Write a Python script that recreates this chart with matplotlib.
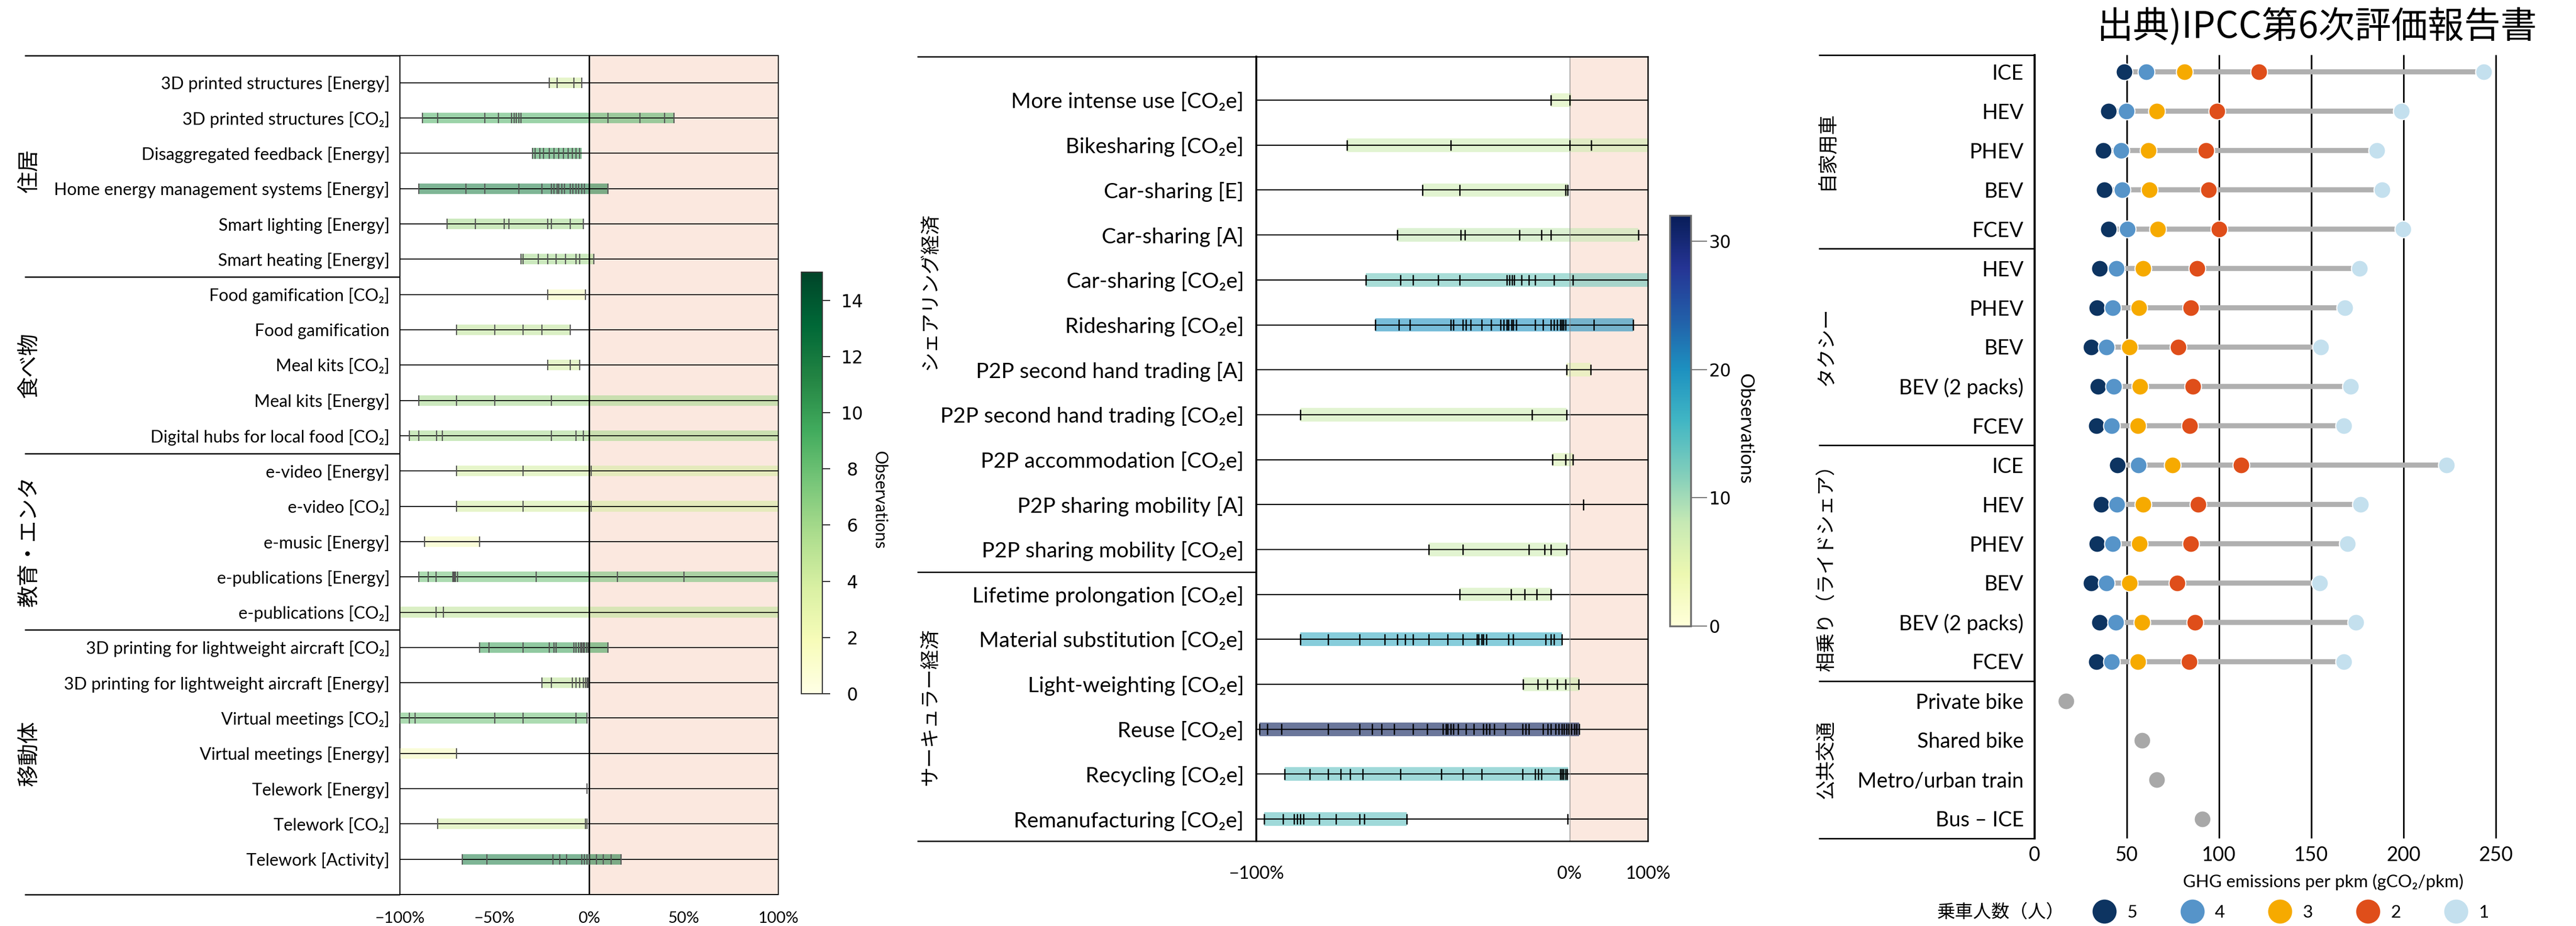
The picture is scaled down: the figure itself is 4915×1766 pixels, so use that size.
import numpy as np
import matplotlib
matplotlib.use("Agg")
import matplotlib.pyplot as plt
import matplotlib.transforms as mtransforms
from matplotlib.cm import ScalarMappable
from matplotlib.colors import Normalize
from matplotlib.lines import Line2D
from matplotlib.ticker import PercentFormatter

plt.rcParams["font.family"] = ["Lato", "Noto Sans CJK JP", "DejaVu Sans"]
JP = ["Noto Sans CJK JP", "DejaVu Sans"]

# ---------------- left panel: digitalisation ----------------
left_groups = ["住居", "食べ物", "教育・エンタ", "移動体"]
left_group_sizes = [6, 5, 5, 7]
left_labels = [
    "3D printed structures [Energy]",
    "3D printed structures [CO₂]",
    "Disaggregated feedback [Energy]",
    "Home energy management systems [Energy]",
    "Smart lighting [Energy]",
    "Smart heating [Energy]",
    "Food gamification [CO₂]",
    "Food gamification",
    "Meal kits [CO₂]",
    "Meal kits [Energy]",
    "Digital hubs for local food [CO₂]",
    "e-video [Energy]",
    "e-video [CO₂]",
    "e-music [Energy]",
    "e-publications [Energy]",
    "e-publications [CO₂]",
    "3D printing for lightweight aircraft [CO₂]",
    "3D printing for lightweight aircraft [Energy]",
    "Virtual meetings [CO₂]",
    "Virtual meetings [Energy]",
    "Telework [Energy]",
    "Telework [CO₂]",
    "Telework [Activity]",
]
left_obs = [
    [-21, -17, -8, -4],
    [-88, -80, -55, -48, -41, -39.5, -38.5, -37, -36, 10, 27, 40, 45],
    [-30, -28.5, -26, -24, -21, -18.5, -16, -13.5, -11, -9, -7, -5],
    [-90, -65, -55, -37, -25, -20, -18.5, -17, -16, -14.5, -13, -10, -8.5, -7, -5.5, -4, -2.5, 10],
    [-75, -60, -45, -42.5, -22, -20, -10, -3],
    [-36, -35, -27, -22, -17.5, -12.5, -7, -5, 2.5],
    [-22, -2],
    [-70, -50, -35, -25, -10],
    [-22, -10, -5],
    [-90, -70, -50, -20],
    [-95, -90, -80.5, -77.5, -20, -7, -3],
    [-70, -35, 1],
    [-70, -35, 1],
    [-87, -58],
    [-90, -85, -81, -72, -71.5, -71, -70.5, -69.5, -28, 15, 50],
    [-81, -77],
    [-58, -53, -35, -21, -18.5, -17.5, -8, -7, -5.5, -4.5, -4, -3, -2.5, -1.5, -0.5, 10],
    [-25, -20, -9, -7, -5, -3, -2, -1, -0.5],
    [-100, -95, -92, -50, -35, -7, -1],
    [-100, -70],
    [-1],
    [-80, -2, -1],
    [-67, -54, -19, -15.5, -12, -4, -2.5, -1, 0, 4, 7.5, 11.5, 17],
]
left_low = [-21, -88, -30, -90, -75, -36, -22, -70, -22, -90, -95, -70, -70, -87,
            -90, -100, -58, -25, -100, -100, -1, -80, -67]
left_high = [-4, 45, -4, 10, -3, 2.5, -2, -10, -5, 100, 100, 100, 100, -58,
             100, 100, 10, -0.5, -1, -70, -1, -1, 17]
left_counts = [4, 9, 10, 12, 6, 6, 2, 5, 4, 6, 6, 4, 4, 2, 8, 5, 10, 5, 8, 2, 1, 4, 12]

# ---------------- middle panel: sharing / circular economy ----------------
mid_groups = ["シェアリング経済", "サーキュラー経済"]
mid_group_sizes = [11, 6]
mid_labels = [
    "More intense use [CO₂e]",
    "Bikesharing [CO₂e]",
    "Car-sharing [E]",
    "Car-sharing [A]",
    "Car-sharing [CO₂e]",
    "Ridesharing [CO₂e]",
    "P2P second hand trading [A]",
    "P2P second hand trading [CO₂e]",
    "P2P accommodation [CO₂e]",
    "P2P sharing mobility [A]",
    "P2P sharing mobility [CO₂e]",
    "Lifetime prolongation [CO₂e]",
    "Material substitution [CO₂e]",
    "Light-weighting [CO₂e]",
    "Reuse [CO₂e]",
    "Recycling [CO₂e]",
    "Remanufacturing [CO₂e]",
]
mid_obs = [
    [-6, 0],
    [-71, -38, 0, 28],
    [-47, -35, -1.2, -0.6],
    [-55, -34.7, -33.4, -16, -9, -6, 88],
    [-65, -54, -50, -42, -35, -20, -19.2, -18.4, -17.7, -15.4, -13, -11, -5, 4],
    [-62, -54.5, -51, -38, -37, -34, -33, -31.5, -28, -25, -22, -21, -20, -19.5,
     -18.5, -18, -17, -11, -8.5, -6, -5, -4, -3, -2.5, -2, -1.3, 31, 81],
    [-1, 27],
    [-86, -12, -1],
    [-5.4, -1.2, 4],
    [18],
    [-45, -34, -13, -8, -6, -1],
    [-35, -18.6, -14.4, -10.4, -6],
    [-86, -77, -67, -59, -55, -52.5, -50, -45, -39, -34, -29.5, -29, -28, -27.5,
     -26.5, -19.5, -18, -7.7, -6, -5, -2.5],
    [-14.8, -10.2, -7.1, -4, -1.3, 11.5],
    [-99, -96.5, -92, -77, -67, -63, -60, -56, -50, -45.5, -40.5, -39.5, -39, -38,
     -37, -35.5, -33, -30.5, -27.5, -26.5, -25.5, -24, -20.5, -15, -14, -13, -8.5,
     -7, -6, -4.5, -3.5, -2.5, -1.7, -1, -0.2, 2.3, 6, 9, 12],
    [-91, -83, -77, -73, -70, -66, -54, -41, -34, -28, -15, -11, -10, -9, -3, -2.5,
     -2, -1.3, -0.8],
    [-97.5, -91.5, -88, -87, -86, -85, -80, -74.5, -67, -65.5, -52, -0.6],
]
mid_low = [-6, -71, -47, -55, -65, -62, -1, -86, -5.4, 18, -45, -35, -86, -14.8, -99, -91, -97.5]
mid_high = [2, 100, -0.5, 88, 100, 81, 27, -1, 4, 18, -1, -6, -2.5, 12, 12.5, -0.5, -52]
mid_counts = [6, 7, 7, 8, 13, 20, 5, 7, 6, 1, 7, 7, 17, 7, 40, 14, 14]

# ---------------- right panel: GHG per pkm ----------------
right_groups = ["自家用車", "タクシー", "相乗り（ライドシェア）", "公共交通"]
right_group_sizes = [5, 5, 6, 4]
right_labels = ["ICE", "HEV", "PHEV", "BEV", "FCEV",
                "HEV", "PHEV", "BEV", "BEV (2 packs)", "FCEV",
                "ICE", "HEV", "PHEV", "BEV", "BEV (2 packs)", "FCEV",
                "Private bike", "Shared bike", "Metro/urban train", "Bus – ICE"]
occupancy = ["5", "4", "3", "2", "1"]
occ_5 = [48.6, 40.1, 37.2, 37.7, 40.1, 35.1, 33.9, 30.7, 34.5, 33.4, 44.8, 36.0, 33.9, 30.7, 35.1, 33.4]
occ_4 = [60.6, 49.7, 46.8, 47.4, 50.3, 44.2, 42.4, 38.9, 43.0, 41.8, 56.2, 44.5, 42.4, 38.9, 43.9, 41.8]
occ_3 = [81.3, 66.1, 61.7, 62.3, 66.7, 58.8, 56.5, 51.5, 57.1, 55.9, 74.6, 58.8, 56.8, 51.5, 58.2, 55.9]
occ_2 = [121.7, 98.9, 93.0, 94.2, 100.1, 88.1, 84.6, 77.8, 85.7, 84.0, 111.8, 88.6, 84.6, 77.2, 86.9, 83.7]
occ_1 = [243.4, 198.9, 185.5, 188.4, 199.8, 176.1, 168.2, 155.1, 171.4, 167.6, 223.2, 176.7, 169.7, 154.5, 174.1, 167.6]
transit_values = [17.0, 58.2, 66.1, 91.0]
occ_colors = ["#0d3461", "#5694c9", "#f6aa00", "#df4e1a", "#c4e0ee"]

W, H = 4915, 1766
fig = plt.figure(figsize=(W / 100, H / 100), dpi=100)


def px_axes(x0, y0, x1, y1):
    return fig.add_axes([x0 / W, 1 - y1 / H, (x1 - x0) / W, (y1 - y0) / H])


def draw_dividers(ax, sizes, x_start, lw=1.8):
    trans = mtransforms.blended_transform_factory(ax.transAxes, ax.transData)
    bottom, top = ax.get_ylim()
    edges = [top] + list(np.cumsum(sizes)[:-1] - 0.5) + [bottom]
    for y in edges:
        ax.plot([x_start, 0], [y, y], transform=trans, color="black", lw=lw,
                clip_on=False, solid_capstyle="butt")


def draw_group_labels(ax, groups, sizes, x, fontsize, offsets=None):
    trans = mtransforms.blended_transform_factory(ax.transAxes, ax.transData)
    offsets = offsets or [0] * len(groups)
    start = 0
    for name, n, off in zip(groups, sizes, offsets):
        ax.text(x, start + (n - 1) / 2 + off, name, rotation=90, ha="center", va="center",
                fontsize=fontsize, family=JP, transform=trans)
        start += n


def draw_ranges(ax, obs, low, high, counts, cmap, norm, alpha, line_lw, tick_color, tick_lw, tick_half, band_h):
    rows = np.arange(len(obs))
    for y in rows:
        ax.axhline(y, color="black", lw=line_lw, zorder=2)
    colors = cmap(norm(np.array(counts)))
    ax.barh(rows, np.array(high) - np.array(low), left=low, height=band_h,
            color=colors, alpha=alpha, lw=0, zorder=1)
    for y, vals in zip(rows, obs):
        ax.vlines(vals, y - tick_half, y + tick_half, color=tick_color, lw=tick_lw, zorder=3)


# ---- left panel
ax1 = px_axes(763, 106, 1485, 1706)
norm1 = Normalize(0, 15)
cmap1 = plt.get_cmap("YlGn")
ax1.axvspan(0, 100, color="#fbe8df", zorder=0, lw=0)
draw_ranges(ax1, left_obs, left_low, left_high, left_counts, cmap1, norm1, 0.55, 1.3, "#555555", 1.6, 0.15, 0.3)
ax1.axvline(0, color="black", lw=2.0, zorder=2)
ax1.set_xlim(-100, 100)
ax1.set_ylim(len(left_labels), -0.77)
ax1.set_yticks(np.arange(len(left_labels)))
ax1.set_yticklabels(left_labels, fontsize=23.5)
ax1.set_xticks([-100, -50, 0, 50, 100])
ax1.xaxis.set_major_formatter(PercentFormatter(decimals=0))
ax1.tick_params(axis="y", length=0, pad=14)
ax1.tick_params(axis="x", length=0, pad=22, labelsize=22)
for s in ax1.spines.values():
    s.set_linewidth(1.4)
draw_dividers(ax1, left_group_sizes, -0.992)
draw_group_labels(ax1, left_groups, left_group_sizes, -0.979, 30)

cax1 = px_axes(1529, 519, 1569, 1323)
cb1 = fig.colorbar(ScalarMappable(norm=norm1, cmap=cmap1), cax=cax1, ticks=range(0, 15, 2))
cb1.outline.set_edgecolor("#333333")
cb1.outline.set_linewidth(1.5)
cax1.tick_params(length=11, width=1.2, pad=30, labelsize=24)
plt.setp(cax1.get_yticklabels(), ha="center", family="DejaVu Sans")
fig.text(1677 / W, 1 - 954 / H, "Observations", rotation=270, ha="center", va="center", fontsize=23)

# ---- middle panel: negative side linear, positive side squeezed 4x


def fwd(x):
    x = np.asarray(x, dtype=float)
    return np.where(x < 0, x, x / 4)


def inv(x):
    x = np.asarray(x, dtype=float)
    return np.where(x < 0, x, x * 4)


ax2 = px_axes(2397, 108, 3144, 1604)
ax2.set_xscale("function", functions=(fwd, inv))
norm2 = Normalize(0, 32)
cmap2 = plt.get_cmap("YlGnBu")
ax2.axvspan(0, 100, color="#fbe8df", zorder=0, lw=0)
draw_ranges(ax2, mid_obs, mid_low, mid_high, mid_counts, cmap2, norm2, 0.6, 1.6, "black", 1.8, 0.12, 0.3)
ax2.axvline(0, color="#8a8a8a", lw=1.0, zorder=2)
ax2.set_xlim(-100, 100)
ax2.set_ylim(len(mid_labels) - 0.51, -0.97)
ax2.set_yticks(np.arange(len(mid_labels)))
ax2.set_yticklabels(mid_labels, fontsize=29.5)
ax2.set_xticks([-100, 0, 100])
ax2.xaxis.set_major_formatter(PercentFormatter(decimals=0))
ax2.xaxis.set_minor_locator(plt.NullLocator())
ax2.tick_params(axis="y", length=0, pad=17)
ax2.tick_params(axis="x", length=0, pad=33, labelsize=24.5)
for s in ax2.spines.values():
    s.set_linewidth(1.8)
ax2.spines["left"].set_linewidth(2.6)
draw_dividers(ax2, mid_group_sizes, -0.866)
draw_group_labels(ax2, mid_groups, mid_group_sizes, -0.833, 27, offsets=[-0.74, 0])

cax2 = px_axes(3186, 411, 3226, 1194)
cb2 = fig.colorbar(ScalarMappable(norm=norm2, cmap=cmap2), cax=cax2, ticks=[0, 10, 20, 30])
cb2.outline.set_edgecolor("#6e6e6e")
cb2.outline.set_linewidth(2.5)
cax2.tick_params(length=22, width=1.5, color="#777777", pad=3, labelsize=24)
plt.setp(cax2.get_yticklabels(), family="DejaVu Sans")
fig.text(3330 / W, 1 - 818 / H, "Observations", rotation=270, ha="center", va="center", fontsize=26)

# ---- right panel
ax3 = px_axes(3882, 105, 3882 + 253 * 3.52, 1599)
n_car = len(occ_5)
car_rows = np.arange(n_car)
ax3.hlines(car_rows, occ_5, occ_1, color="#b0b0b0", lw=7, zorder=2)
for vals, c in zip([occ_5, occ_4, occ_3, occ_2, occ_1], occ_colors):
    ax3.plot(vals, car_rows, "o", ls="none", ms=23, mfc=c, mec="white", mew=1.5, zorder=3)
ax3.plot(transit_values, np.arange(n_car, n_car + len(transit_values)), "o", ls="none",
         ms=23, mfc="#a8a8a8", mec="white", mew=1.5, zorder=3)
ax3.set_xlim(0, 253)
ax3.set_ylim(len(right_labels) - 0.5, -0.42)
ax3.set_xticks([0, 50, 100, 150, 200, 250])
ax3.grid(axis="x", color="black", lw=2.2)
ax3.set_axisbelow(True)
ax3.set_yticks(np.arange(len(right_labels)))
ax3.set_yticklabels(right_labels, fontsize=28.5)
ax3.tick_params(axis="y", length=0, pad=15)
ax3.tick_params(axis="x", length=0, pad=10, labelsize=27)
for side in ["top", "right", "bottom"]:
    ax3.spines[side].set_visible(False)
ax3.spines["left"].set_linewidth(2.8)
draw_dividers(ax3, right_group_sizes, -0.4626, lw=2.0)
draw_group_labels(ax3, right_groups, right_group_sizes, -0.446, 27)

fig.text(4433 / W, 1 - 1682 / H, "GHG emissions per pkm (gCO₂/pkm)", ha="center", va="center", fontsize=24)
fig.text(3696 / W, 1 - 1741 / H, "乗車人数（人）", ha="left", va="center", fontsize=25, family=JP)
handles = [Line2D([], [], marker="o", ls="none", ms=33, mfc=c, mec="none") for c in occ_colors]
fig.legend(handles, occupancy, ncol=5, frameon=False, loc="center left",
           bbox_to_anchor=(3960 / W, 1 - 1741 / H), fontsize=24, handlelength=1.5,
           handletextpad=0.55, columnspacing=2.4, borderpad=0.4)

fig.text(4840 / W, 1 - 52 / H, "出典)IPCC第6次評価報告書", ha="right", va="center", fontsize=50, family=JP)

fig.savefig("out.png", dpi=100)
